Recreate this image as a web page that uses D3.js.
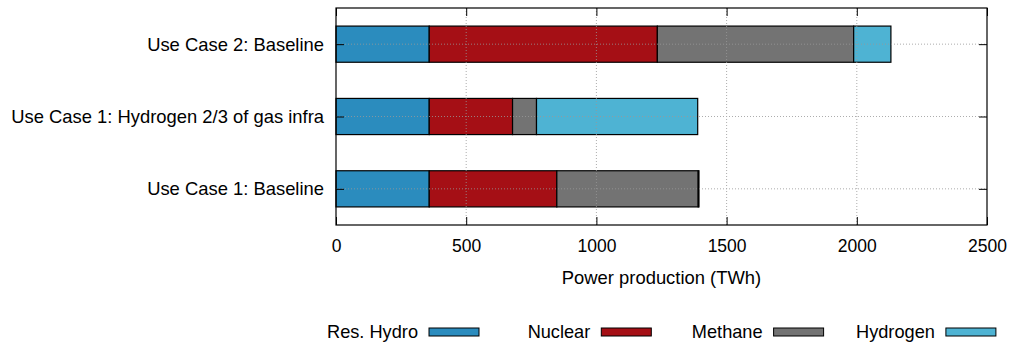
<!DOCTYPE html>
<html>
<head>
<meta charset="utf-8">
<script src="https://cdn.jsdelivr.net/npm/d3@7"></script>
<style>
  body { margin: 0; background: #fff; }
  svg { display: block; font-family: "Liberation Sans", Arial, sans-serif; }
</style>
</head>
<body>
<div id="container"></div>
<script>
const width = 1014, height = 344;
const plot = { left: 336, right: 987, top: 8, bottom: 225 };

// Data (TWh), bottom category first
const categories = [
  "Use Case 1: Baseline",
  "Use Case 1: Hydrogen 2/3 of gas infra",
  "Use Case 2: Baseline",
];
const seriesNames = ["Res. Hydro", "Nuclear", "Methane", "Hydrogen"];
const resHydro = [358, 358, 358];
const nuclear = [490, 320, 876];
const methane = [543, 92, 754];
const hydrogen = [3, 619, 143];
const xTicks = [0, 500, 1000, 1500, 2000, 2500];
const colors = ["#2b8cbe", "#a50f15", "#737373", "#4eb3d3"];

const rows = categories.map((c, i) => ({
  idx: i,
  "Res. Hydro": resHydro[i],
  "Nuclear": nuclear[i],
  "Methane": methane[i],
  "Hydrogen": hydrogen[i],
}));
const stacked = d3.stack().keys(seriesNames)(rows);

const svg = d3.select("#container").append("svg")
  .attr("width", width).attr("height", height);

const x = d3.scaleLinear().domain([0, 2500]).range([plot.left, plot.right]);
const y = d3.scaleLinear().domain([-0.5, 2.5]).range([plot.bottom, plot.top]);
const barH = y(0) - y(0.5);

// Bars
stacked.forEach((layer, si) => {
  svg.append("g").selectAll("rect")
    .data(layer)
    .join("rect")
    .attr("x", d => x(d[0]))
    .attr("y", d => y(d.data.idx) - barH / 2)
    .attr("width", d => x(d[1]) - x(d[0]))
    .attr("height", barH)
    .attr("fill", colors[si])
    .attr("stroke", "#000")
    .attr("stroke-width", 1.2);
});

// Grid drawn in front of the bars
const grid = svg.append("g")
  .attr("stroke", "#999")
  .attr("stroke-width", 1)
  .attr("stroke-dasharray", "1,2")
  .attr("opacity", 0.8);
xTicks.slice(1, -1).forEach(v => {
  grid.append("line")
    .attr("x1", x(v)).attr("x2", x(v))
    .attr("y1", plot.top).attr("y2", plot.bottom);
});
[0, 1, 2].forEach(v => {
  grid.append("line")
    .attr("x1", plot.left).attr("x2", plot.right)
    .attr("y1", y(v)).attr("y2", y(v));
});

// Axes (ticks point inward, mirrored on top and right)
const styleAxis = (ax, size) => {
  ax.select(".domain").remove();
  ax.selectAll("line").attr("stroke", "#000").attr("stroke-width", 1);
  ax.selectAll("text").attr("fill", "#000").style("font-size", size);
};

const xAxis = svg.append("g")
  .attr("transform", `translate(0,${plot.bottom})`)
  .call(d3.axisBottom(x).tickValues(xTicks).tickSizeInner(-8).tickSizeOuter(0)
    .tickPadding(15).tickFormat(d3.format("d")));
styleAxis(xAxis, "17.5px");

const xTop = svg.append("g")
  .attr("transform", `translate(0,${plot.top})`)
  .call(d3.axisTop(x).tickValues(xTicks).tickSizeInner(-8).tickSizeOuter(0).tickFormat(""));
styleAxis(xTop, "17px");

const yAxis = svg.append("g")
  .attr("transform", `translate(${plot.left},0)`)
  .call(d3.axisLeft(y).tickValues([0, 1, 2]).tickSizeInner(-8).tickSizeOuter(0)
    .tickPadding(12).tickFormat(i => categories[i]));
styleAxis(yAxis, "18.4px");

const yRight = svg.append("g")
  .attr("transform", `translate(${plot.right},0)`)
  .call(d3.axisRight(y).tickValues([0, 1, 2]).tickSizeInner(-8).tickSizeOuter(0).tickFormat(""));
styleAxis(yRight, "18px");

// Plot border
svg.append("rect")
  .attr("x", plot.left).attr("y", plot.top)
  .attr("width", plot.right - plot.left).attr("height", plot.bottom - plot.top)
  .attr("fill", "none").attr("stroke", "#000").attr("stroke-width", 1.2);

// Axis label
svg.append("text")
  .attr("x", (plot.left + plot.right) / 2)
  .attr("y", 284)
  .attr("text-anchor", "middle")
  .style("font-size", "18.4px")
  .text("Power production (TWh)");

// Legend: label right-aligned before its swatch
const legendStart = 429, legendStep = 172.3;
seriesNames.forEach((name, i) => {
  const sx = legendStart + i * legendStep;
  svg.append("rect")
    .attr("x", sx).attr("y", 328)
    .attr("width", 50).attr("height", 8)
    .attr("fill", colors[i])
    .attr("stroke", "#000").attr("stroke-width", 1);
  svg.append("text")
    .attr("x", sx - 11).attr("y", 338)
    .attr("text-anchor", "end")
    .style("font-size", "18.2px")
    .text(name);
});
</script>
</body>
</html>
